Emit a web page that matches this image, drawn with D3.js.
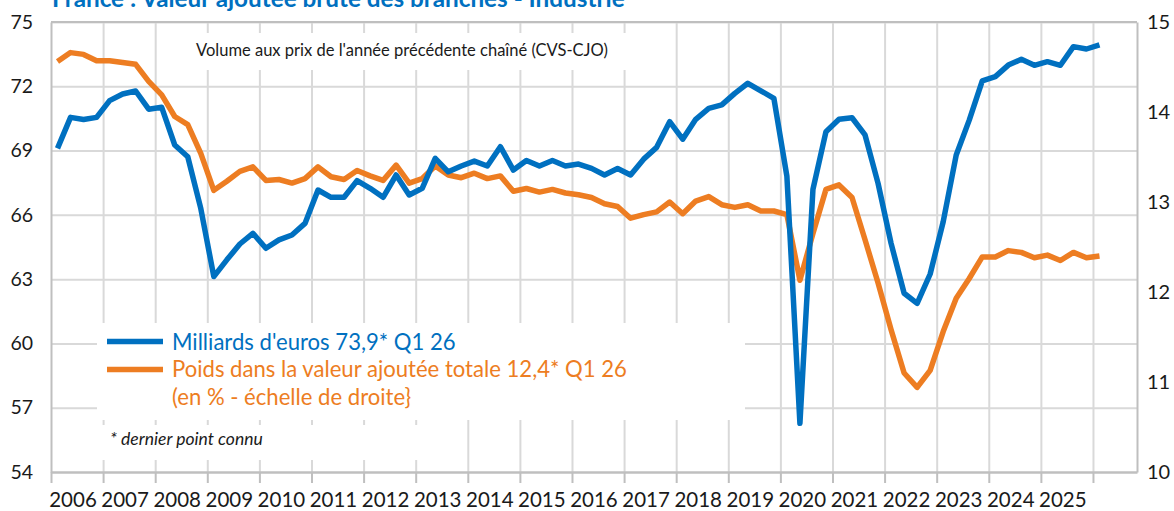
<!DOCTYPE html>
<html>
<head>
<meta charset="utf-8">
<script src="https://cdn.jsdelivr.net/npm/d3@7"></script>
<style>
  body { margin: 0; background: #fff; }
  svg { display: block; font-family: Lato, "Open Sans", sans-serif; }
</style>
</head>
<body>
<div id="chart"></div>
<script>
// Chart data (quarterly, 2006 Q1 -> 2026 Q1)
const yearLabels = ["2006", "2007", "2008", "2009", "2010", "2011", "2012", "2013", "2014", "2015",
  "2016", "2017", "2018", "2019", "2020", "2021", "2022", "2023", "2024", "2025"];
const leftTicks = [54, 57, 60, 63, 66, 69, 72, 75];
const rightTicks = [10, 11, 12, 13, 14, 15];

// Milliards d'euros (left scale)
const milliards = [
  69.1, 70.55, 70.45, 70.55, 71.33, 71.64, 71.78, 70.93,
  71.02, 69.26, 68.71, 66.3, 63.12, 63.9, 64.64, 65.14,
  64.44, 64.83, 65.06, 65.6, 67.16, 66.82, 66.82, 67.6,
  67.24, 66.82, 67.86, 66.93, 67.24, 68.64, 68.01, 68.28,
  68.51, 68.28, 69.18, 68.09, 68.54, 68.28, 68.54, 68.28,
  68.37, 68.17, 67.86, 68.16, 67.86, 68.6, 69.15, 70.35,
  69.53, 70.46, 70.97, 71.13, 71.67, 72.14, 71.79, 71.44,
  67.8, 56.27, 67.19, 69.88, 70.46, 70.53, 69.73, 67.47,
  64.67, 62.34, 61.87, 63.24, 65.68, 68.79, 70.42, 72.25,
  72.45, 72.99, 73.26, 72.98, 73.15, 72.98, 73.85, 73.74,
  73.93
];

// Poids dans la valeur ajoutée totale, % (right scale)
const poids = [
  14.56, 14.66, 14.64, 14.57, 14.57, 14.55, 14.53, 14.34,
  14.19, 13.95, 13.86, 13.54, 13.13, 13.23, 13.34, 13.39,
  13.24, 13.25, 13.21, 13.26, 13.39, 13.28, 13.25, 13.35,
  13.29, 13.24, 13.41, 13.21, 13.26, 13.4, 13.3, 13.27,
  13.32, 13.26, 13.29, 13.12, 13.15, 13.11, 13.14, 13.1,
  13.08, 13.05, 12.98, 12.95, 12.82, 12.86, 12.89, 13.0,
  12.87, 13.01, 13.06, 12.97, 12.94, 12.97, 12.9, 12.9,
  12.86, 12.13, 12.65, 13.14, 13.19, 13.05, 12.58, 12.1,
  11.58, 11.1, 10.94, 11.13, 11.56, 11.93, 12.15, 12.39,
  12.39, 12.46, 12.44, 12.38, 12.41, 12.35, 12.44, 12.38,
  12.4
];

const BLUE = "#0070c0";
const ORANGE = "#ed7d22";
const GRID = "#d9d9d9";
const AXIS = "#bfbfbf";

const WIDTH = 1174, HEIGHT = 511;
const plot = { left: 51, right: 1137, top: 22, bottom: 472 };

const svg = d3.select("#chart").append("svg")
  .attr("width", WIDTH)
  .attr("height", HEIGHT);

// Scales: x in years, quarters centred in their slot
const x = d3.scaleLinear().domain([2006, 2026.845]).range([plot.left, plot.right]);
const yL = d3.scaleLinear().domain([54, 75]).range([plot.bottom, plot.top]);
const yR = d3.scaleLinear().domain([10, 15]).range([plot.bottom, plot.top]);
const qx = (i) => x(2006 + (i + 0.5) / 4);

// Horizontal gridlines
svg.append("g")
  .attr("transform", `translate(${plot.left},0)`)
  .call(d3.axisLeft(yL).tickValues(leftTicks.slice(1)).tickSize(-(plot.right - plot.left)).tickFormat(""))
  .call(g => g.select(".domain").remove())
  .call(g => g.selectAll("line").attr("stroke", GRID).attr("stroke-width", 2));

// Vertical gridlines at year boundaries
const boundaries = yearLabels.map(d => +d + 1);
svg.append("g")
  .attr("transform", `translate(0,${plot.bottom})`)
  .call(d3.axisBottom(x).tickValues(boundaries).tickSize(-(plot.bottom - plot.top)).tickFormat(""))
  .call(g => g.select(".domain").remove())
  .call(g => g.selectAll("line").attr("stroke", GRID).attr("stroke-width", 2));

// White boxes (subtitle, legend, footnote) hiding the grid
svg.append("rect").attr("x", 180).attr("y", 33).attr("width", 446).attr("height", 37).attr("fill", "#fff");
svg.append("rect").attr("x", 97).attr("y", 323).attr("width", 648).attr("height", 97).attr("fill", "#fff");
svg.append("rect").attr("x", 97).attr("y", 425).attr("width", 343).attr("height", 35).attr("fill", "#fff");

// Bottom axis with tick marks
svg.append("g")
  .attr("transform", `translate(0,${plot.bottom})`)
  .call(d3.axisBottom(x).tickValues([2006, ...boundaries]).tickSize(11).tickSizeOuter(0).tickFormat(""))
  .call(g => g.select(".domain").attr("stroke", AXIS).attr("stroke-width", 2.5))
  .call(g => g.selectAll("line").attr("stroke", AXIS).attr("stroke-width", 2));

// Year labels, placed in their year slot
svg.append("g").selectAll("text")
  .data(yearLabels)
  .join("text")
  .attr("x", d => x(+d) + 22)
  .attr("y", 507)
  .attr("text-anchor", "middle")
  .attr("font-size", 20.5)
  .attr("fill", "#1a1a1a")
  .text(d => d);

// Left axis
svg.append("g")
  .attr("transform", `translate(${plot.left},0)`)
  .call(d3.axisLeft(yL).tickValues(leftTicks).tickSize(0).tickPadding(18).tickFormat(d3.format("d")))
  .call(g => g.select(".domain").attr("stroke", AXIS).attr("stroke-width", 2))
  .call(g => g.selectAll("text").attr("font-size", 19.5).attr("font-family", "Lato").attr("fill", "#1a1a1a"));

// Right axis
svg.append("g")
  .attr("transform", `translate(${plot.right},0)`)
  .call(d3.axisRight(yR).tickValues(rightTicks).tickSize(0).tickPadding(10).tickFormat(d3.format("d")))
  .call(g => g.select(".domain").attr("stroke", AXIS).attr("stroke-width", 2))
  .call(g => g.selectAll("text").attr("font-size", 20).attr("font-family", "Lato").attr("fill", "#1a1a1a"));

// Top border (75 gridline)
svg.append("line")
  .attr("x1", plot.left).attr("x2", plot.right)
  .attr("y1", yL(75)).attr("y2", yL(75))
  .attr("stroke", AXIS).attr("stroke-width", 2);

// Lines
const lineL = d3.line().x((d, i) => qx(i)).y(d => yL(d));
const lineR = d3.line().x((d, i) => qx(i)).y(d => yR(d));

svg.append("path")
  .datum(poids)
  .attr("d", lineR)
  .attr("fill", "none")
  .attr("stroke", ORANGE)
  .attr("stroke-width", 5.5)
  .attr("stroke-linejoin", "round");

svg.append("path")
  .datum(milliards)
  .attr("d", lineL)
  .attr("fill", "none")
  .attr("stroke", BLUE)
  .attr("stroke-width", 5.5)
  .attr("stroke-linejoin", "round");

// Fit a text element to a target width
function fitWidth(sel, target) {
  const w = sel.node().getComputedTextLength();
  const fs = parseFloat(sel.attr("font-size"));
  sel.attr("font-size", (fs * target / w).toFixed(2));
  return fs * target / w;
}

// Title (cut at top of picture)
const title = svg.append("text")
  .attr("x", 52).attr("y", 7)
  .attr("font-size", 22)
  .attr("font-weight", "bold")
  .attr("fill", BLUE)
  .text("France : Valeur ajoutée brute des branches - Industrie");
fitWidth(title, 573);

// Subtitle
const sub = svg.append("text")
  .attr("x", 196).attr("y", 56)
  .attr("font-size", 16)
  .attr("fill", "#1a1a1a")
  .text("Volume aux prix de l'année précédente chaîné (CVS-CJO)");
fitWidth(sub, 412);

// Legend
const legend = svg.append("g");
legend.append("line")
  .attr("x1", 107).attr("x2", 163).attr("y1", 341.5).attr("y2", 341.5)
  .attr("stroke", BLUE).attr("stroke-width", 5.5);
legend.append("line")
  .attr("x1", 107).attr("x2", 163).attr("y1", 369.5).attr("y2", 369.5)
  .attr("stroke", ORANGE).attr("stroke-width", 5.5);

const leg2 = legend.append("text")
  .attr("x", 172).attr("y", 377)
  .attr("font-size", 20)
  .attr("fill", ORANGE)
  .text("Poids dans la valeur ajoutée totale 12,4* Q1 26");
const legSize = fitWidth(leg2, 455);

legend.append("text")
  .attr("x", 172).attr("y", 349.5)
  .attr("font-size", legSize)
  .attr("fill", BLUE)
  .text("Milliards d'euros 73,9* Q1 26");

legend.append("text")
  .attr("x", 172).attr("y", 405)
  .attr("font-size", legSize)
  .attr("fill", ORANGE)
  .text("(en % - échelle de droite}");

const note = svg.append("text")
  .attr("x", 110).attr("y", 445)
  .attr("font-size", 15)
  .attr("font-style", "italic")
  .attr("fill", "#1a1a1a")
  .text("* dernier point connu");
fitWidth(note, 153);
</script>
</body>
</html>
